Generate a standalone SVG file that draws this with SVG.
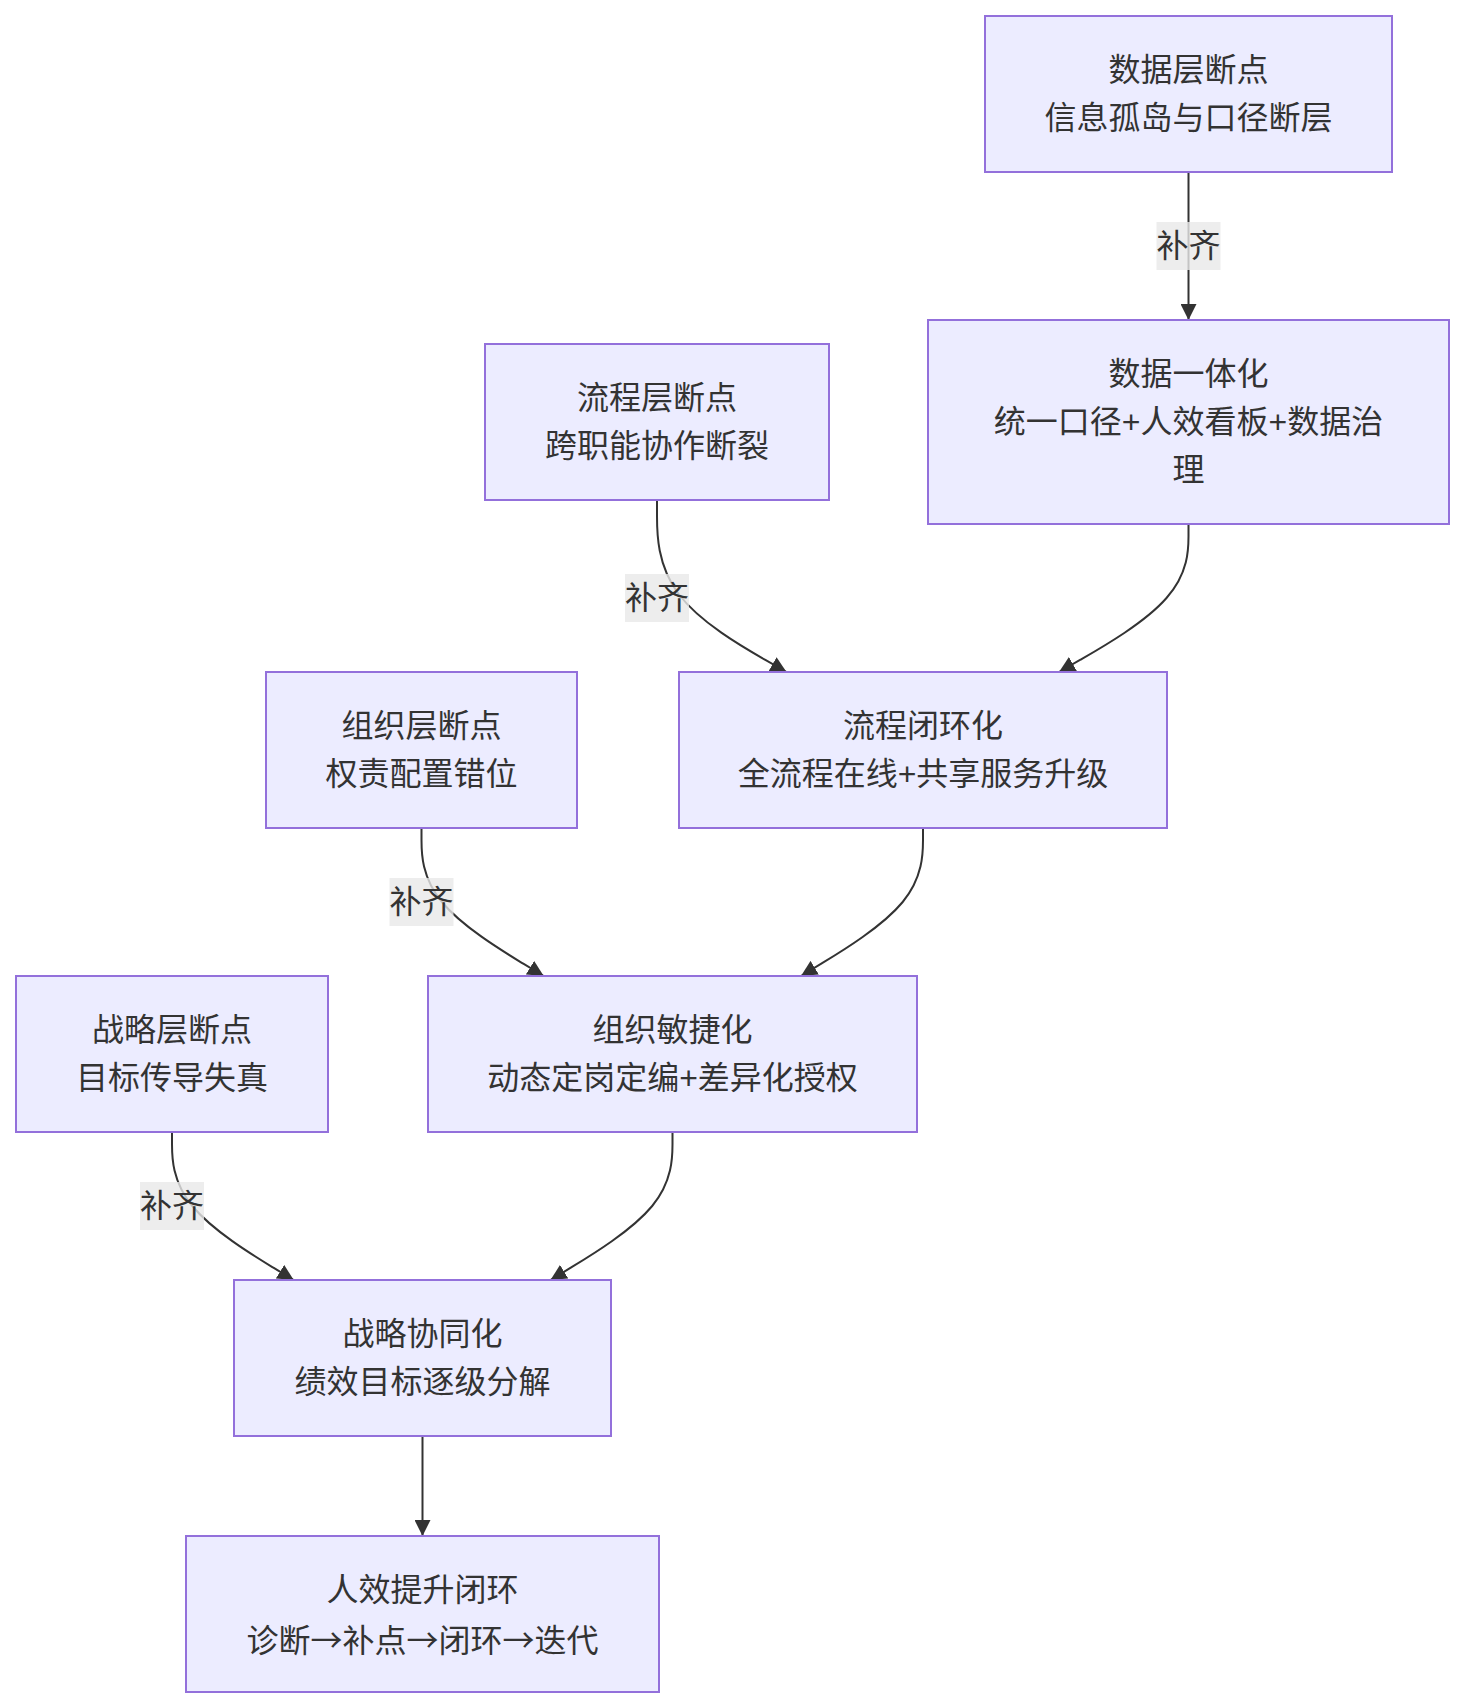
<svg xmlns="http://www.w3.org/2000/svg" width="1464" height="1708" viewBox="0 0 1464 1708">
<defs>
<marker id="arrow" viewBox="0 0 10 10" refX="10" refY="5" markerUnits="userSpaceOnUse" markerWidth="16" markerHeight="16" orient="auto">
<path d="M0,0 L10,5 L0,10 z" fill="#333333"/>
</marker>
<style>
.node rect{fill:#ECECFF;stroke:#9370DB;stroke-width:2}
.node text,.lbl text{font-family:"Liberation Sans","Noto Sans CJK SC",sans-serif;font-size:32px;fill:#333333;text-anchor:middle;dominant-baseline:central}
.node text.cjk{font-family:"Noto Sans CJK SC",sans-serif}
.edge{fill:none;stroke:#333333;stroke-width:2;marker-end:url(#arrow)}
.lbl rect{fill:#e8e8e8;fill-opacity:0.8}
</style>
</defs>
<rect width="1464" height="1708" fill="#ffffff"/>
<g id="connectors">
<path class="edge" d="M1188.5,172 L1188.5,320"/>
<path class="edge" d="M1188.5,524 L1188.5,536.3 C1188.5,548.7 1188.5,573.3 1166.5,598 C1145,622.7 1102,647.3 1080.5,659.7 L1059,672"/>
<path class="edge" d="M657,500 L657,516.3 C657,532.7 657,565.3 678.6,594 C700.2,622.7 743.3,647.3 764.9,659.7 L786.5,672"/>
<path class="edge" d="M923,828 L923,840.3 C923,852.7 923,877.3 902.7,902 C882.3,926.7 841.7,951.3 821.3,963.7 L801,976"/>
<path class="edge" d="M421.5,828 L421.5,840.3 C421.5,852.7 421.5,877.3 441.9,902 C462.2,926.7 503,951.3 523.3,963.7 L543.7,976"/>
<path class="edge" d="M672.5,1132 L672.5,1144.3 C672.5,1156.7 672.5,1181.3 652.2,1206 C631.8,1230.7 591.2,1255.3 570.8,1267.7 L550.5,1280"/>
<path class="edge" d="M172,1132 L172,1144.3 C172,1156.7 172,1181.3 192.3,1206 C212.6,1230.7 253.1,1255.3 273.4,1267.7 L293.7,1280"/>
<path class="edge" d="M422.5,1436 L422.5,1536"/>
<g class="lbl"><rect x="1156.5" y="222" width="64" height="48"/><text x="1188.5" y="246">补齐</text></g>
<g class="lbl"><rect x="625" y="574" width="64" height="48"/><text x="657" y="598">补齐</text></g>
<g class="lbl"><rect x="389.5" y="878" width="64" height="48"/><text x="421.5" y="902">补齐</text></g>
<g class="lbl"><rect x="140" y="1182" width="64" height="48"/><text x="172" y="1206">补齐</text></g>
</g>
<g id="nodeA" class="node"><rect x="985" y="16" width="407" height="156"/><text x="1188.5" y="70">数据层断点</text><text x="1188.5" y="118">信息孤岛与口径断层</text></g>
<g id="nodeB" class="node"><rect x="928" y="320" width="521" height="204"/><text x="1188.5" y="374">数据一体化</text><text x="1188.5" y="422">统一口径+人效看板+数据治</text><text x="1188.5" y="470">理</text></g>
<g id="nodeC" class="node"><rect x="485" y="344" width="344" height="156"/><text x="657" y="398">流程层断点</text><text x="657" y="446">跨职能协作断裂</text></g>
<g id="nodeD" class="node"><rect x="679" y="672" width="488" height="156"/><text x="923" y="726">流程闭环化</text><text x="923" y="774">全流程在线+共享服务升级</text></g>
<g id="nodeE" class="node"><rect x="266" y="672" width="311" height="156"/><text x="421.5" y="726">组织层断点</text><text x="421.5" y="774">权责配置错位</text></g>
<g id="nodeF" class="node"><rect x="428" y="976" width="489" height="156"/><text x="672.5" y="1030">组织敏捷化</text><text x="672.5" y="1078">动态定岗定编+差异化授权</text></g>
<g id="nodeG" class="node"><rect x="16" y="976" width="312" height="156"/><text x="172" y="1030">战略层断点</text><text x="172" y="1078">目标传导失真</text></g>
<g id="nodeH" class="node"><rect x="234" y="1280" width="377" height="156"/><text x="422.5" y="1334">战略协同化</text><text x="422.5" y="1382">绩效目标逐级分解</text></g>
<g id="nodeI" class="node"><rect x="186" y="1536" width="473" height="156"/><text x="422.5" y="1590">人效提升闭环</text><text class="cjk" x="422.5" y="1638">诊断→补点→闭环→迭代</text></g>
</svg>
